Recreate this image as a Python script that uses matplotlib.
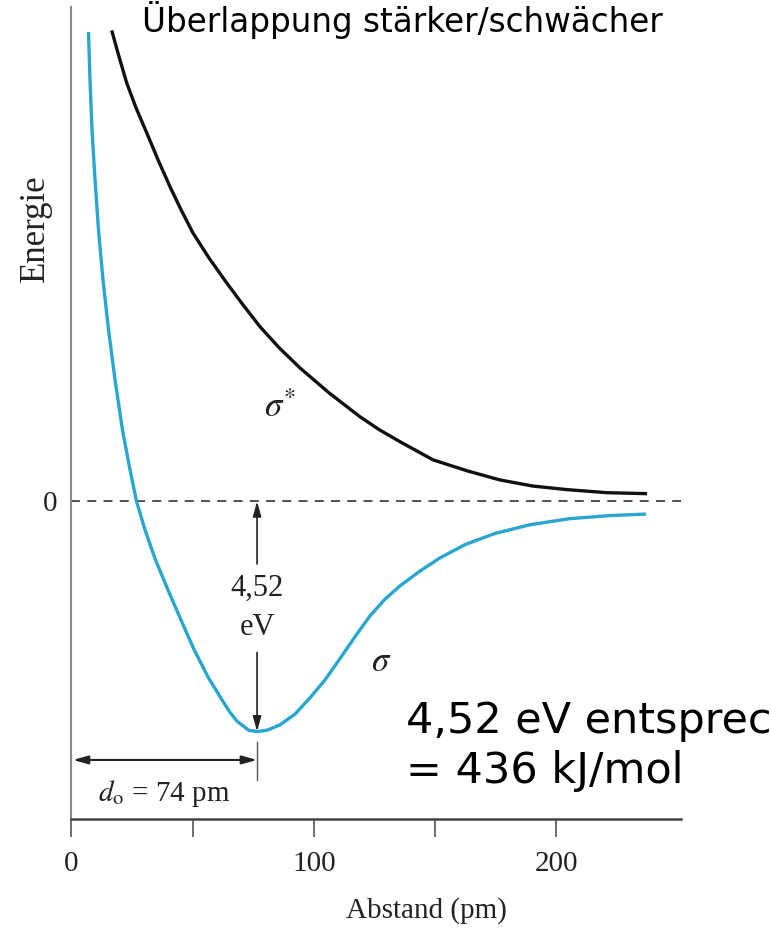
import matplotlib
matplotlib.use("Agg")
import matplotlib.pyplot as plt

# ---- data ----
sigma_r = [7.05, 7.67, 8.50, 9.74, 11.18, 13.04, 15.31, 17.99, 21.08, 24.17, 26.86,
           30.36, 34.69, 39.85, 45.21, 50.58, 56.35, 62.13, 65.43, 68.32, 73.27, 76.57,
           79.0, 81.1, 86.06, 92.24, 98.43, 104.6, 110.8, 117.0, 123.2, 129.4, 135.6,
           143.8, 152.1, 162.4, 174.8, 189.2, 205.7, 222.2, 237.0]
sigma_E = [9.22, 8.28, 7.30, 6.32, 5.33, 4.35, 3.37, 2.39, 1.40, 0.62, 0.00,
           -0.56, -1.15, -1.74, -2.33, -2.91, -3.45, -3.90, -4.145, -4.32, -4.50, -4.52,
           -4.51, -4.49, -4.39, -4.18, -3.86, -3.51, -3.09, -2.66, -2.25, -1.92, -1.66,
           -1.37, -1.11, -0.85, -0.63, -0.46, -0.34, -0.28, -0.25]

sigma_star_r = [16.63, 19.43, 22.81, 26.65, 31.06, 35.73, 40.68, 45.21, 50.17, 56.77,
                64.07, 70.79, 77.81, 85.64, 94.31, 106.3, 119.1, 126.9, 135.6, 149.2,
                163.2, 176.8, 190.4, 204.4, 220.9, 237.5]
sigma_star_E = [9.25, 8.77, 8.22, 7.73, 7.24, 6.71, 6.18, 5.73, 5.27, 4.78,
                4.29, 3.86, 3.43, 3.02, 2.62, 2.13, 1.66, 1.41, 1.17, 0.815,
                0.60, 0.42, 0.30, 0.23, 0.17, 0.15]

x_ticks_major = [0, 100, 200]
x_ticks_minor = [50, 150]
x_tick_labels = ["0", "100", "200"]
y_tick_values = [0]
y_tick_labels = ["0"]

r_min = 76.6          # drawn position of the minimum
E_min = -4.52
label_energy = ["4,52", "eV"]
label_d0 = r"$d_{\mathrm{o}}$ = 74 pm"
title_text = "Überlappung stärker/schwächer"
note_lines = ["4,52 eV entsprechen", "= 436 kJ/mol"]

# ---- figure ----
W, H = 771, 930
fig = plt.figure(figsize=(W / 100, H / 100), dpi=100)
plt.rcParams['mathtext.fontset'] = 'stix'
serif = ['Liberation Serif', 'DejaVu Serif']
ink = '#222222'

ax = fig.add_axes([71.4 / W, (H - 819) / H, (681 - 71.4) / W, (819 - 7) / H])
ax.set_xlim(0, 251.5)
ax.set_ylim(-6.24, 9.71)

blue = '#27a6d0'
ax.plot(sigma_r, sigma_E, color=blue, lw=2.4, solid_capstyle='butt',
        solid_joinstyle='round', zorder=3)
ax.plot(sigma_star_r, sigma_star_E, color='#111111', lw=2.4, solid_capstyle='butt',
        solid_joinstyle='round', zorder=3)
ax.axhline(0, color='#444444', lw=1.3, ls=(0, (5, 4)), zorder=2)

for s in ['top', 'right']:
    ax.spines[s].set_visible(False)
ax.spines['left'].set_color('#8a8a8a')
ax.spines['left'].set_linewidth(1.5)
ax.spines['bottom'].set_color('#444444')
ax.spines['bottom'].set_linewidth(1.8)

ax.set_xticks(x_ticks_major)
ax.set_xticklabels(x_tick_labels, fontfamily=serif, fontsize=21, color=ink)
ax.set_xticks(x_ticks_minor, minor=True)
ax.tick_params(axis='x', which='both', direction='out', length=13, width=1.2,
               color='#555555', pad=10)
ax.set_yticks(y_tick_values)
ax.set_yticklabels(y_tick_labels, fontfamily=serif, fontsize=21, color=ink)
ax.tick_params(axis='y', length=0, pad=10)

# vertical double arrow (energy)
arr = dict(arrowstyle='-|>,head_width=0.25,head_length=0.9', color=ink, lw=1.2,
           shrinkA=0, shrinkB=0)
ax.annotate('', xy=(r_min, 0), xytext=(r_min, -1.23), arrowprops=arr)
ax.annotate('', xy=(r_min, E_min), xytext=(r_min, -2.97), arrowprops=arr)
ax.text(r_min, -1.70, label_energy[0], ha='center', va='center', fontfamily=serif,
        fontsize=22, color=ink)
ax.text(r_min, -2.47, label_energy[1], ha='center', va='center', fontfamily=serif,
        fontsize=22, color=ink)

# horizontal double arrow (d0)
arr2 = dict(arrowstyle='<|-|>,head_width=0.25,head_length=0.9', color=ink, lw=1.5,
            shrinkA=0, shrinkB=0)
ax.annotate('', xy=(0.6, -5.08), xytext=(r_min, -5.08), arrowprops=arr2)
ax.plot([r_min, r_min], [-4.72, -5.47], color='#555555', lw=1.0)
ax.text(38.2, -5.73, label_d0, ha='center', va='center', fontfamily=serif,
        fontsize=21, color=ink)

# curve labels
ax.text(127.7, -3.13, r"$\sigma$", ha='center', va='center', fontsize=25, color=ink)
ax.text(86.0, 1.85, r"$\sigma^{*}$", ha='center', va='center', fontsize=25, color=ink)

# axis titles
fig.text(426 / W, 1 - 911 / H, "Abstand (pm)", ha='center', va='center',
         fontfamily=serif, fontsize=21, color=ink)
fig.text(35 / W, 1 - 228 / H, "Energie", ha='center', va='center', rotation=90,
         fontfamily=serif, fontsize=25, color=ink)

# slide texts
fig.text(142 / W, 1 - 31.7 / H, title_text, ha='left', va='baseline',
         fontfamily='DejaVu Sans', fontsize=23.5, color='black')
fig.text(406 / W, 1 - 733 / H, note_lines[0], ha='left', va='baseline',
         fontfamily='DejaVu Sans', fontsize=31, color='black')
fig.text(406 / W, 1 - 783 / H, note_lines[1], ha='left', va='baseline',
         fontfamily='DejaVu Sans', fontsize=31, color='black')

fig.savefig('out.png', dpi=100)
